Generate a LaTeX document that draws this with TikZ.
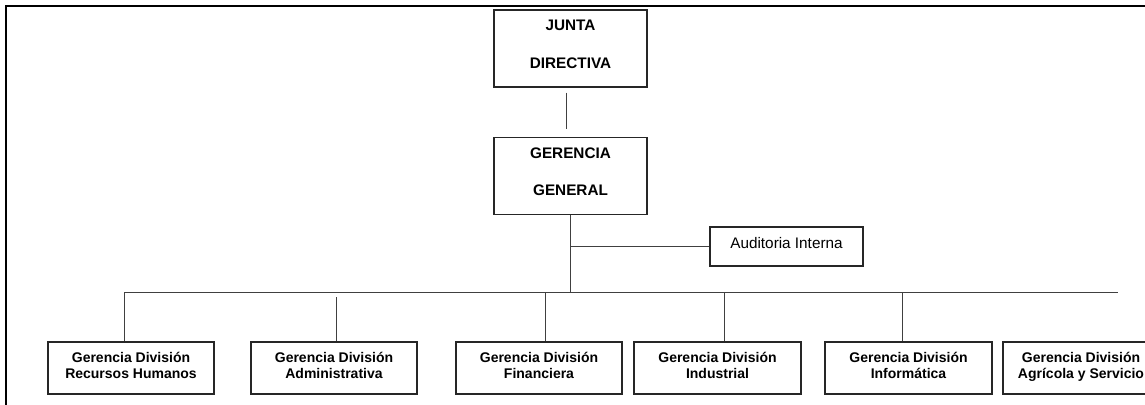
\documentclass[tikz,border=0pt]{standalone}
\usepackage{fontspec}
\setmainfont{Liberation Sans}
\begin{document}
\begin{tikzpicture}[x=1pt,y=-1pt,
	topbox/.style={draw=black!85, line width=1.2pt, minimum width=153pt, minimum height=77pt, inner sep=0pt, align=center, font=\fontsize{15.3}{37.5}\selectfont\bfseries, text height=48.5pt, text depth=9.5pt},
	divbox/.style={draw=black!85, line width=1.2pt, minimum width=166pt, minimum height=52pt, inner sep=0pt, align=center, font=\fontsize{14}{16}\selectfont\bfseries, text height=26pt, text depth=6pt},
	link/.style={draw=black!75, line width=1pt}]
	\useasboundingbox (0,0) rectangle (1145,404);
	\clip (0,0) rectangle (1145,404);
	\draw[line width=2.4pt] (6,6) rectangle (1200,480);
	
	\node[topbox] (jd) at (570.5,48.5) {JUNTA\\DIRECTIVA};
	\node[topbox] (gg) at (570.5,176) {GERENCIA\\GENERAL};
	\node[draw=black!85, line width=1.2pt, minimum width=153pt, minimum height=39pt, inner sep=0pt, font=\fontsize{15.3}{18}\selectfont, text height=11pt, text depth=7pt] (ai) at (786.5,246.5) {Auditoria Interna};
	\node[divbox] (rh) at (131,368) {Gerencia División\\Recursos Humanos};
	\node[divbox] (adm) at (334,368) {Gerencia División\\Administrativa};
	\node[divbox] (fin) at (539,368) {Gerencia División\\Financiera};
	\node[divbox, minimum width=167pt] (ind) at (717.5,368) {Gerencia División\\Industrial};
	\node[divbox, minimum width=167pt] (inf) at (908.5,368) {Gerencia División\\Informática};
	\node[divbox, minimum width=156pt] (agr) at (1081,368) {Gerencia División\\Agrícola y Servicio};
	\coordinate (busL) at (124,292);
	\coordinate (busR) at (1118,292);
	
	\draw[link, shorten <=5pt, shorten >=8pt] ([xshift=-4.5pt]jd.south) -- ([xshift=-4.5pt]gg.north);
	\draw[link] (gg.south) -- (gg.south |- busL);
	\draw[link] (gg.south |- ai.west) -- (ai.west);
	\draw[link] (busL) -- (busR);
	\draw[link] (busL) -- (busL |- rh.north);
	\draw[link, shorten <=5pt] ([xshift=2pt]adm.north |- busL) -- ([xshift=2pt]adm.north);
	\draw[link] ([xshift=6pt]fin.north |- busL) -- ([xshift=6pt]fin.north);
	\draw[link] ([xshift=6.5pt]ind.north |- busL) -- ([xshift=6.5pt]ind.north);
	\draw[link] ([xshift=-6.5pt]inf.north |- busL) -- ([xshift=-6.5pt]inf.north);
\end{tikzpicture}
\end{document}
